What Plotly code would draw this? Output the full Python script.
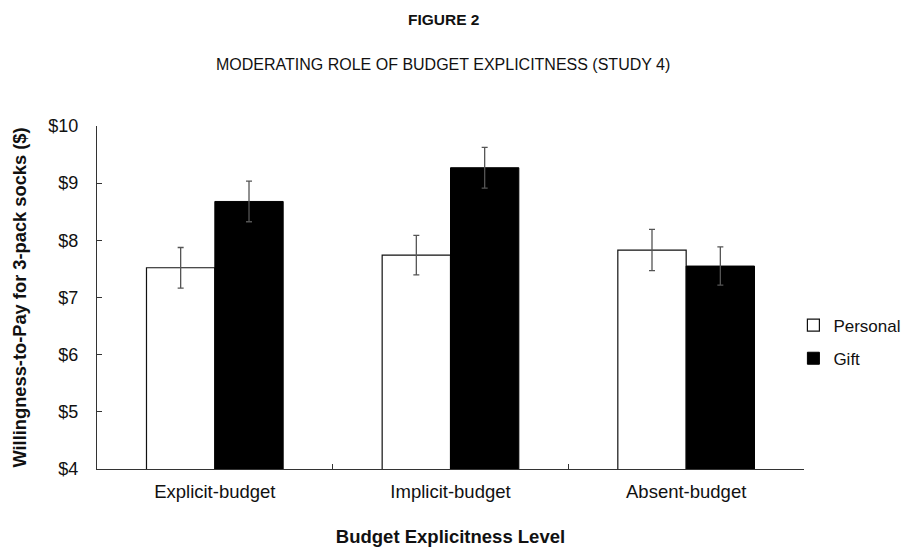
import plotly.graph_objects as go

# Study 4: willingness-to-pay by budget explicitness condition
conditions = ["Explicit-budget", "Implicit-budget", "Absent-budget"]
personal_wtp = [7.52, 7.74, 7.83]
personal_err = [0.355, 0.345, 0.36]
gift_wtp = [8.68, 9.27, 7.55]
gift_err = [0.355, 0.355, 0.335]
y_ticks = [4, 5, 6, 7, 8, 9, 10]

font_family = "Liberation Sans, Arial, Helvetica, sans-serif"

fig = go.Figure()
fig.add_trace(go.Bar(
    name="Personal", x=conditions, y=personal_wtp, legendgroup="personal",
    marker=dict(color="white", line=dict(color="#111111", width=1.2)),
    error_y=dict(type="data", array=personal_err, color="#555555", thickness=1.3, width=3),
))
fig.add_trace(go.Bar(
    name="Gift", x=conditions, y=gift_wtp, legendgroup="gift",
    marker=dict(color="black", line=dict(color="black", width=1)),
    error_y=dict(type="data", array=gift_err, color="#555555", thickness=1.3, width=3),
))

fig.update_layout(
    width=901, height=552,
    margin=dict(l=97, r=97, t=126, b=83, autoexpand=False),
    paper_bgcolor="white", plot_bgcolor="white",
    barmode="group", bargap=0.42, bargroupgap=0,
    font=dict(family=font_family, size=18, color="#111111"),
    showlegend=True,
    legend=dict(x=0.985, xanchor="left", y=0.37, yanchor="middle",
                font=dict(size=17, color="#111111"), tracegroupgap=8,
                itemwidth=30, bgcolor="rgba(0,0,0,0)"),
    annotations=[
        dict(text="<b>FIGURE 2</b>", xref="paper", yref="paper", x=0.49, y=1.0,
             yshift=107, xanchor="center", yanchor="middle", showarrow=False,
             font=dict(size=15.5, family=font_family, color="#111111")),
        dict(text="MODERATING ROLE OF BUDGET EXPLICITNESS (STUDY 4)", xref="paper", yref="paper",
             x=0.49, y=1.0, yshift=62, xanchor="center", yanchor="middle", showarrow=False,
             font=dict(size=16, family=font_family, color="#111111")),
    ],
)

fig.update_xaxes(
    showline=True, linecolor="#333333", linewidth=1.3,
    ticks="inside", ticklen=5, tickcolor="#333333", tickson="boundaries",
    tickfont=dict(size=18.5), showgrid=False, ticklabelstandoff=6,
    title=dict(text="<b>Budget Explicitness Level</b>", font=dict(size=18.5), standoff=28),
)
fig.update_yaxes(
    range=[4, 10], tickvals=y_ticks, ticktext=[f"${v}" for v in y_ticks],
    showline=True, linecolor="#333333", linewidth=1.3,
    ticks="inside", ticklen=5, tickcolor="#333333", ticklabelstandoff=14,
    tickfont=dict(size=18), showgrid=False, zeroline=False,
    title=dict(text="<b>Willingness-to-Pay for 3-pack socks ($)</b>", font=dict(size=18.3), standoff=16),
)

fig.write_html("out.html")
